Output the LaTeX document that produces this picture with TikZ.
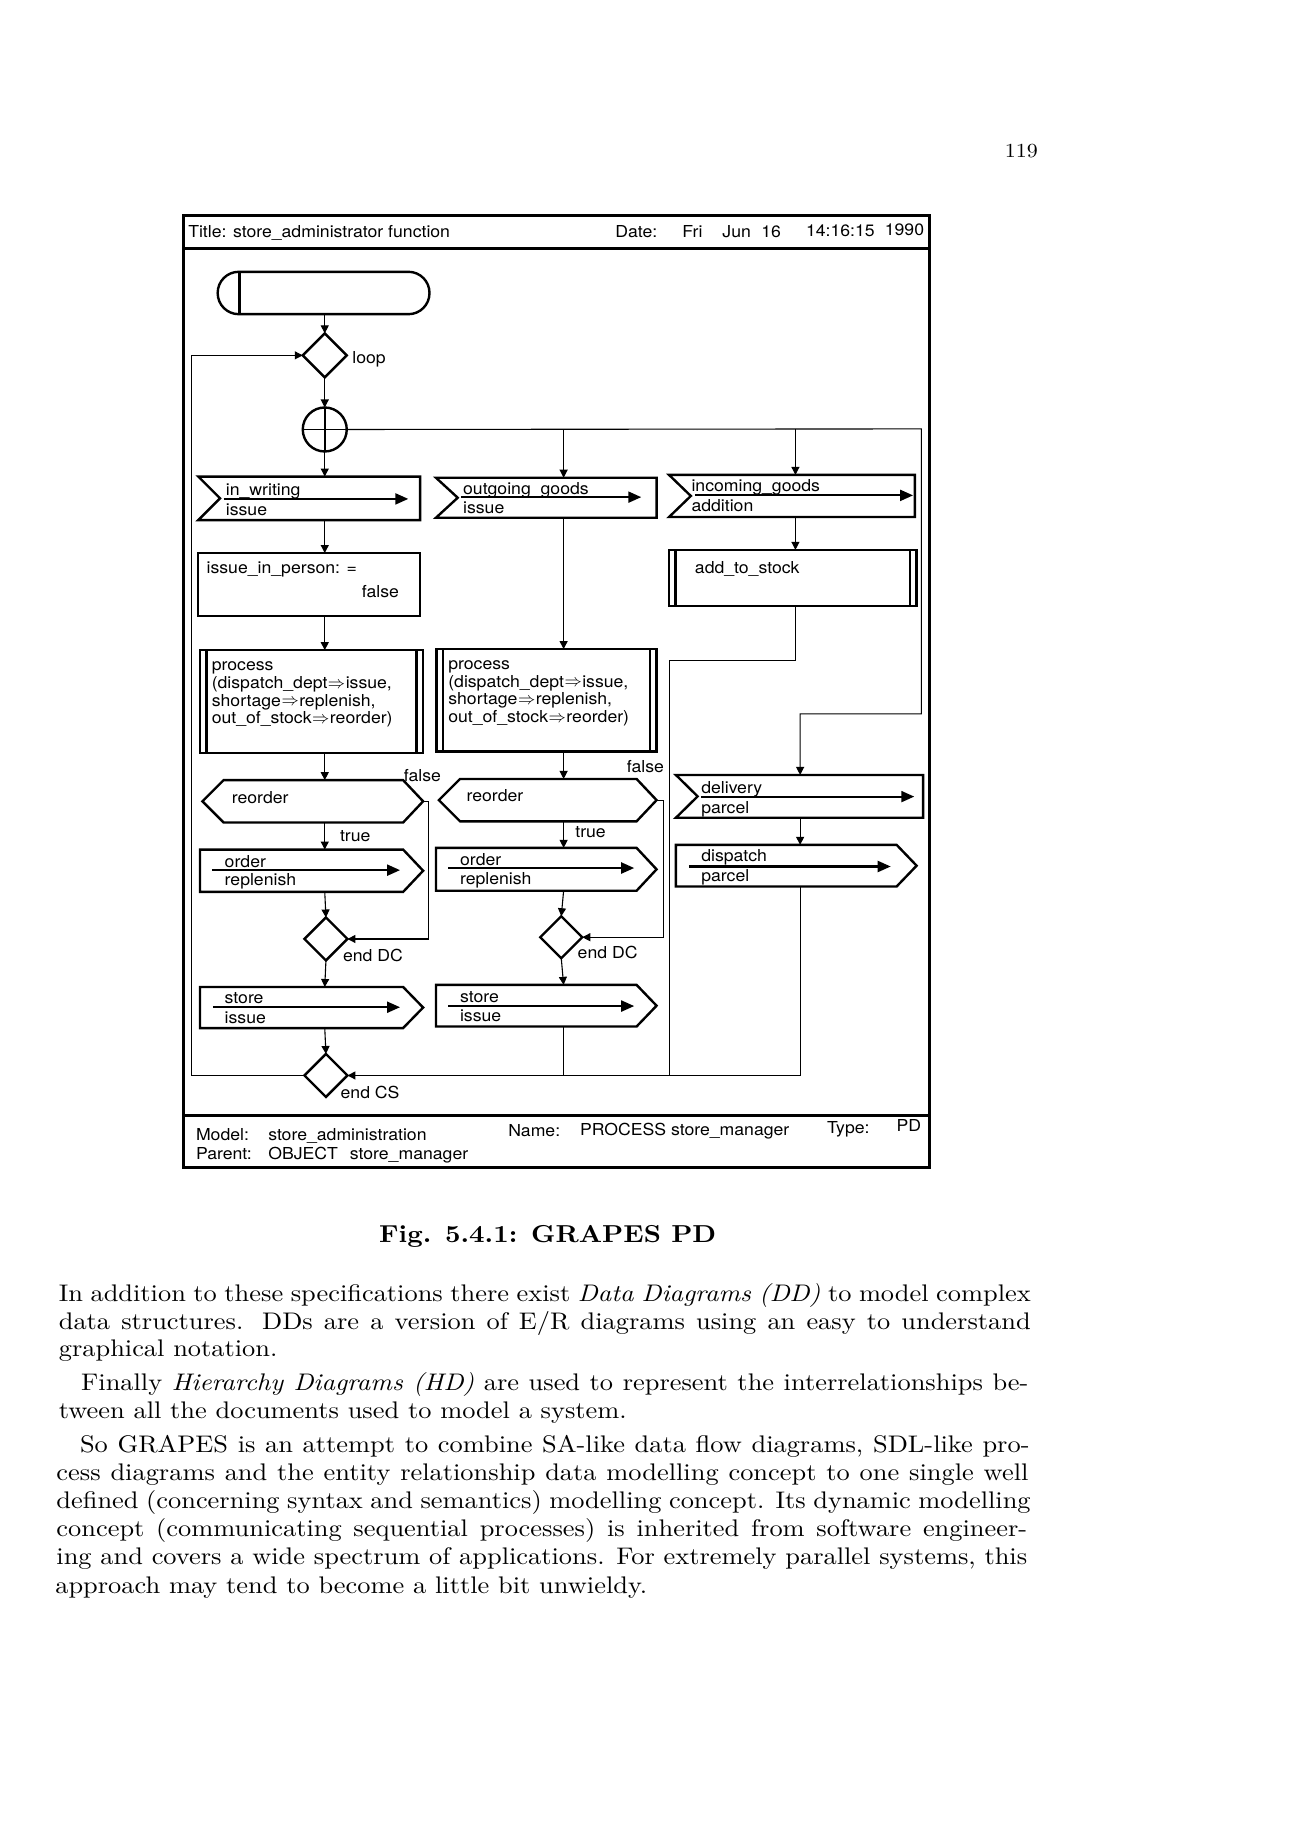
\documentclass[tikz,border=0pt]{standalone}
\usepackage{fontspec}
\setmainfont{lmroman10}[Extension=.otf, UprightFont=*-regular, BoldFont=*-bold, ItalicFont=*-italic, FakeStretch=1.1]
\newfontfamily\hv{TeX Gyre Heros}[FakeStretch=1.07]
\usetikzlibrary{arrows.meta,calc,fit,shapes.geometric}
\newcommand\InSigShape[1]{\draw[shp] (#1.north west) -- (#1.north east) -- (#1.south east) -- (#1.south west) -- ($(#1.west)+(18.5,0)$) -- cycle;}
\newcommand\OutSigShape[1]{\draw[shp] (#1.north west) -- ($(#1.north east)+(-17,0)$) -- (#1.east) -- ($(#1.south east)+(-17,0)$) -- (#1.south west) -- cycle;}
\newcommand\DecShape[1]{\draw[shp] ($(#1.north west)+(18,0)$) -- ($(#1.north east)+(-17,0)$) -- (#1.east) -- ($(#1.south east)+(-17,0)$) -- ($(#1.south west)+(18,0)$) -- (#1.west) -- cycle;}
\newcommand\ProcShape[1]{\draw[shp] (#1.north west) rectangle (#1.south east);
  \draw[shp] ($(#1.north west)+(5.6,0)$) -- ($(#1.south west)+(5.6,0)$);
  \draw[shp] ($(#1.north east)+(-5.6,0)$) -- ($(#1.south east)+(-5.6,0)$);}
\newcommand\jline[5]{\node[body] (#1) at (#2,#3) {\makebox[#4pt][s]{#5}};}
\newcommand\nline[4]{\node[body] (#1) at (#2,#3) {#4};}
\newcommand\RA{\kern0.5pt\raisebox{0.2pt}{$\Rightarrow$}\kern0.5pt}
\tikzset{
  every node/.style={inner sep=0pt, outer sep=0pt},
  frm/.style={line width=2.7pt},
  shp/.style={line width=2.4pt, line join=miter},
  conn/.style={line width=1.1pt},
  arr/.style={conn, -{Triangle[length=8pt,width=8pt]}},
  sig/.style={line width=2.1pt, -{Triangle[length=13pt,width=11pt]}},
  lbl/.style={font=\hv\fontsize{16.5}{17.6}\selectfont, anchor=base west},
  body/.style={font=\fontsize{24}{28}\selectfont, anchor=base west},
  area/.style={inner sep=0pt, draw=none},
}
\begin{document}
\begin{tikzpicture}[x=1.17685pt,y=-1.17685pt]
\useasboundingbox (0,0) rectangle (1097,1568);
\fill[white] (0,0) rectangle (1097,1568);

% page number
\node[font=\fontsize{20}{24}\selectfont, anchor=base east] (pnum) at (882,134) {119};

% frame
\node[fit={(156,183)(790,992)}, draw, frm] (frame) {};
\coordinate (tsep) at (0,211);
\coordinate (fsep) at (0,948);
\draw[frm] (tsep -| frame.west) -- (tsep -| frame.east);
\draw[frm] (fsep -| frame.west) -- (fsep -| frame.east);

% title bar
\node[lbl] (ttitle) at (160,201.5) {Title: store\_administrator function};
\node[lbl] (tdate) at (523,201.5) {Date:};
\node[lbl] (tfri) at (580,201.5) {Fri};
\node[lbl] (tjun) at (614,201.5) {Jun};
\node[lbl] (tday) at (647,201.5) {16};
\node[lbl] (ttime) at (685,201) {14:16:15};
\node[lbl] (tyear) at (752,200.5) {1990};

% column x positions
\coordinate (c1) at (276,0);
\coordinate (c2) at (479,0);
\coordinate (c3) at (676,0);
\coordinate (c3b) at (680,0);

% start symbol
\node[fit={(185,231)(365,267)}, draw, shp, rounded corners=21pt] (start) {};
\draw[shp] ($(start.north west)+(18.5,0)$) -- ($(start.south west)+(18.5,0)$);

% loop decision
\node[diamond, draw, shp, minimum size=44pt, inner sep=0pt] (loopd) at (276,302) {};
\node[lbl] (tloop) at (299.5,309) {loop};

% junction circle
\node[circle, draw, shp, minimum size=44pt, inner sep=0pt] (circ) at (276,365) {};
\draw[line width=1.6pt] (circ.north) -- (circ.south) (circ.west) -- (circ.east);

% ---------- column 1 ----------
\node[fit={(168.5,405)(357,442)}, area] (iw) {};
\InSigShape{iw}
\draw[sig] (190,424) -- (347,424);
\node[lbl] (tiw1) at (192,421.5) {in\_writing};
\node[lbl] (tiw2) at (192,438) {issue};

\node[fit={(168.5,470)(357,523.5)}, draw, shp] (iip) {};
\node[lbl] (tiip1) at (175.6,487.5) {issue\_in\_person: =};
\node[lbl, anchor=base east] (tiip2) at (339,508) {false};

\node[fit={(170,552.5)(359.6,640)}, area] (p1) {};
\ProcShape{p1}
\node[lbl] (tp1a) at (180,570) {process};
\node[lbl] (tp1b) at (180,585) {(dispatch\_dept\RA issue,};
\node[lbl] (tp1c) at (180,600) {shortage\RA replenish,};
\node[lbl] (tp1d) at (180,615) {out\_of\_stock\RA reorder)};

\node[fit={(172,663)(359.6,699)}, area] (ro1) {};
\DecShape{ro1}
\node[lbl] (tro1) at (197,683) {reorder};
\node[lbl, anchor=base] (tf1) at (359,664.5) {false};
\node[lbl] (tt1) at (289,715) {true};

\node[fit={(170,722)(359.6,758)}, area] (or1) {};
\OutSigShape{or1}
\draw[sig] (180,739.5) -- (340,739.5);
\node[lbl] (tor1a) at (191,737) {order};
\node[lbl] (tor1b) at (191,752.5) {replenish};

\node[diamond, draw, shp, minimum size=43pt, inner sep=0pt] (dc1) at (277,798) {};
\node[lbl] (tdc1) at (291.6,817.5) {end DC};

\node[fit={(170,838.8)(359.6,873.7)}, area] (st1) {};
\OutSigShape{st1}
\draw[sig] (181,856) -- (340,856);
\node[lbl] (tst1a) at (191,853) {store};
\node[lbl] (tst1b) at (191,869.5) {issue};

\node[diamond, draw, shp, minimum size=43pt, inner sep=0pt] (cs) at (277,914) {};
\node[lbl] (tcs) at (289.5,933.5) {end CS};

% ---------- column 2 ----------
\node[fit={(370.5,406)(558,440)}, area] (og) {};
\InSigShape{og}
\draw[sig] (392,422.5) -- (545,422.5);
\node[lbl] (tog1) at (393.6,420) {outgoing\_goods};
\node[lbl] (tog2) at (393.6,436.5) {issue};

\node[fit={(371,551.6)(558,638.7)}, area] (p2) {};
\ProcShape{p2}
\node[lbl] (tp2a) at (381,569) {process};
\node[lbl] (tp2b) at (381,584) {(dispatch\_dept\RA issue,};
\node[lbl] (tp2c) at (381,599) {shortage\RA replenish,};
\node[lbl] (tp2d) at (381,614) {out\_of\_stock\RA reorder)};

\node[fit={(373,662)(558,698)}, area] (ro2) {};
\DecShape{ro2}
\node[lbl] (tro2) at (396.5,681) {reorder};
\node[lbl, anchor=base] (tf2) at (548.5,656.5) {false};
\node[lbl] (tt2) at (489,712) {true};

\node[fit={(370.5,720.6)(558,757)}, area] (or2) {};
\OutSigShape{or2}
\draw[sig] (381,737.7) -- (539,737.7);
\node[lbl] (tor2a) at (391,735.5) {order};
\node[lbl] (tor2b) at (391,751.5) {replenish};

\node[diamond, draw, shp, minimum size=42pt, inner sep=0pt] (dc2) at (477,796.5) {};
\node[lbl] (tdc2) at (491,814.5) {end DC};

\node[fit={(370.5,837)(558,872.4)}, area] (st2) {};
\OutSigShape{st2}
\draw[sig] (381,855) -- (539,855);
\node[lbl] (tst2a) at (391,852) {store};
\node[lbl] (tst2b) at (391,868.5) {issue};

% ---------- column 3 ----------
\node[fit={(568.6,403.6)(777.5,439.4)}, area] (ig) {};
\InSigShape{ig}
\draw[sig] (590.6,421) -- (776,421);
\node[lbl] (tig1) at (587.7,417.5) {incoming\_goods};
\node[lbl] (tig2) at (587.7,435) {addition};

\node[fit={(568.6,467.3)(779,515)}, area] (ats) {};
\ProcShape{ats}
\node[lbl] (tats) at (590.6,487) {add\_to\_stock};

\node[fit={(574.4,658.6)(784.5,695)}, area] (del) {};
\InSigShape{del}
\draw[sig] (596,677) -- (777,677);
\node[lbl] (tdel1) at (596,674.5) {delivery};
\node[lbl] (tdel2) at (596,691) {parcel};

\node[fit={(574.4,718)(779,753.4)}, area] (disp) {};
\OutSigShape{disp}
\draw[sig] (585.5,736.4) -- (757,736.4);
\node[lbl] (tdisp1) at (596,732.5) {dispatch};
\node[lbl] (tdisp2) at (596,749) {parcel};

% footer
\node[lbl] (fmodel) at (166.6,969) {Model:};
\node[lbl] (fmodelv) at (228,969) {store\_administration};
\node[lbl] (fname) at (432,966) {Name:};
\node[lbl] (fnamev) at (493,965) {PROCESS store\_manager};
\node[lbl] (ftype) at (703,963) {Type:};
\node[lbl] (ftypev) at (762,962) {PD};
\node[lbl] (fparent) at (166.6,985) {Parent:};
\node[lbl] (fparentv) at (228,985) {OBJECT};
\node[lbl] (fparentn) at (297.4,985) {store\_manager};

% ---------- connectors ----------
\coordinate (rt) at (783,364.5);
\coordinate (rb) at (783,606.7);
\coordinate (m1) at (568.6,561);
\coordinate (bot) at (0,914);
\coordinate (lft) at (163,0);
\coordinate (f1) at (364.5,0);
\coordinate (f2) at (563.5,0);

\draw[arr] (start.south -| c1) -- (loopd.north);
\draw[arr] (loopd.south) -- (circ.north);
\draw[arr] (circ.south) -- (iw.north -| c1);
\draw[arr] (iw.south -| c1) -- (iip.north -| c1);
\draw[arr] (iip.south -| c1) -- (p1.north -| c1);
\draw[arr] (p1.south -| c1) -- (ro1.north -| c1);
\draw[arr] (ro1.south -| c1) -- (or1.north -| c1);
\draw[arr] (or1.south -| c1) -- (dc1.north);
\draw[arr] (dc1.south) -- (st1.north -| c1);
\draw[arr] (st1.south -| c1) -- (cs.north);
\draw[arr] (ro1.east) -- (ro1.east -| f1) -- (dc1.east -| f1) -- (dc1.east);

\draw[arr] (circ.east) -- (rt) -- (rb) -- (rb -| c3b) -- (del.north -| c3b);
\draw[arr] (circ.east -| c2) -- (og.north -| c2);
\draw[arr] (circ.east -| c3) -- (ig.north -| c3);

\draw[arr] (og.south -| c2) -- (p2.north -| c2);
\draw[arr] (p2.south -| c2) -- (ro2.north -| c2);
\draw[arr] (ro2.south -| c2) -- (or2.north -| c2);
\draw[arr] (or2.south -| c2) -- (dc2.north);
\draw[arr] (dc2.south) -- (st2.north -| c2);
\draw[arr] (ro2.east) -- (ro2.east -| f2) -- (dc2.east -| f2) -- (dc2.east);
\draw[conn] (st2.south -| c2) -- (bot -| c2);

\draw[arr] (ig.south -| c3) -- (ats.north -| c3);
\draw[conn] (ats.south -| c3) -- (m1 -| c3) -- (m1) -- (bot -| m1);
\draw[arr] (del.south -| c3b) -- (disp.north -| c3b);
\draw[arr] (disp.south -| c3b) -- (bot -| c3b) -- (cs.east);
\draw[arr] (cs.west) -- (cs.west -| lft) -- (loopd.west -| lft) -- (loopd.west);

% caption
\node[font=\bfseries\fontsize{24.5}{29}\selectfont, anchor=base] (cap) at (465.5,1056) {Fig. 5.4.1: GRAPES PD};

% body text
\jline{b1}{50}{1106}{972.1}{In addition to these specifications there exist \textit{Data Diagrams (DD)} to model complex}
\jline{b2}{50}{1129.5}{972.1}{data structures. DDs are a version of E/R diagrams using an easy to understand}
\nline{b3}{50}{1153}{graphical notation.}
\jline{b4}{69}{1182}{947.4}{Finally \textit{Hierarchy Diagrams (HD)} are used to represent the interrelationships be-}
\nline{b5}{50}{1205.5}{tween all the documents used to model a system.}
\jline{b6}{68}{1234.5}{949.7}{So GRAPES is an attempt to combine SA-like data flow diagrams, SDL-like pro-}
\jline{b7}{48}{1258}{972.1}{cess diagrams and the entity relationship data modelling concept to one single well}
\jline{b8}{48}{1282}{974.4}{defined (concerning syntax and semantics) modelling concept. Its dynamic modelling}
\jline{b9}{48}{1306}{970.9}{concept (communicating sequential processes) is inherited from software engineer-}
\jline{b10}{48}{1330}{970.9}{ing and covers a wide spectrum of applications. For extremely parallel systems, this}
\nline{b11}{47}{1354}{approach may tend to become a little bit unwieldy.}
\end{tikzpicture}
\end{document}
